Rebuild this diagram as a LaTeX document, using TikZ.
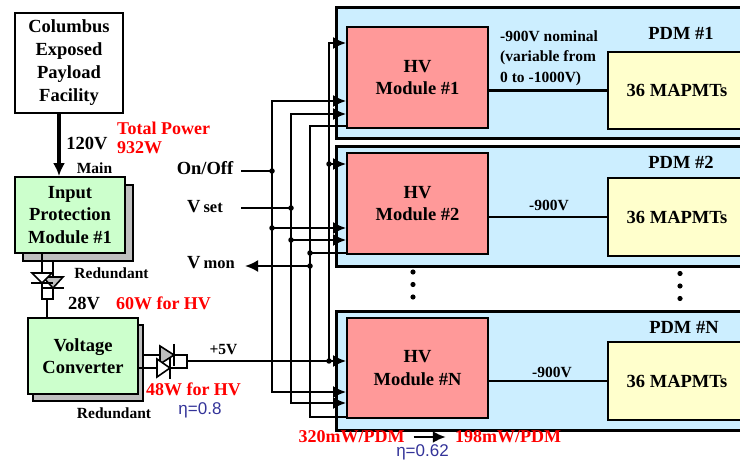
\documentclass[tikz,border=0pt]{standalone}
\usepackage{fontspec}
\setmainfont{Liberation Serif}
\newfontfamily\sansf{Liberation Sans}
\usetikzlibrary{arrows.meta}
\definecolor{pdmblue}{HTML}{CCEEFF}
\definecolor{hvpink}{HTML}{FF9999}
\definecolor{pmtyellow}{HTML}{FFFFCC}
\definecolor{ipgreen}{HTML}{CCFFCC}
\definecolor{shadowgray}{HTML}{BFBFBF}
\definecolor{etablue}{HTML}{333399}
\definecolor{pwrred}{HTML}{FF0000}
\begin{document}
\begin{tikzpicture}[x=1pt,y=-1pt,
  big/.style={font=\fontsize{18.5}{22.5}\selectfont\bfseries, align=center, inner sep=0pt},
  small/.style={font=\fontsize{15.5}{20.5}\selectfont\bfseries, inner sep=0pt},
  pwr/.style={font=\fontsize{18}{20}\selectfont\bfseries, text=pwrred, inner sep=0pt, align=left},
  eff/.style={font=\sansf\fontsize{17}{20}\selectfont, text=etablue, inner sep=0pt},
  box/.style={draw, line width=1.8pt, big},
  shadowbox/.style={draw, line width=1.8pt, fill=shadowgray},
  panel/.style={draw, line width=2.8pt, fill=pdmblue, anchor=north west, minimum width=430pt},
  wire/.style={line width=2.2pt},
  tip/.style={-{Latex[length=13pt,width=12pt]}},
  tips/.style={{Latex[length=13pt,width=12pt]}-{Latex[length=13pt,width=12pt]}},
  jdot/.style={circle, fill=black, inner sep=0pt, minimum size=5.5pt},
  diode/.style={line width=1.6pt},
]
\useasboundingbox (0,0) rectangle (740,465);
\fill[white] (0,0) rectangle (740,465);

% ---------- PDM panels ----------
\node[panel, minimum height=131pt] (pdm1) at (335,6) {};
\node[panel, minimum height=120pt] (pdm2) at (335,145) {};
\node[panel, minimum height=119pt] (pdmN) at (335,310) {};

% ---------- HV modules ----------
\node[box, fill=hvpink, minimum width=141pt, minimum height=101pt] (hv1) at (417.5,77.5) {HV\\Module \#1};
\node[box, fill=hvpink, minimum width=141pt, minimum height=101pt] (hv2) at (417.5,203.5) {HV\\Module \#2};
\node[box, fill=hvpink, minimum width=141pt, minimum height=100pt] (hvN) at (417.5,368) {HV\\Module \#N};

% ---------- MAPMT boxes ----------
\node[box, fill=pmtyellow, minimum width=138pt, minimum height=77pt] (pmt1) at (677,90.5) {36 MAPMTs};
\node[box, fill=pmtyellow, minimum width=138pt, minimum height=78pt] (pmt2) at (677,217) {36 MAPMTs};
\node[box, fill=pmtyellow, minimum width=138pt, minimum height=78pt] (pmtN) at (677,381) {36 MAPMTs};

\draw[wire] (hv1.east |- pmt1.west) -- (pmt1.west);
\draw[wire] (hv2.east |- pmt2.west) -- (pmt2.west);
\draw[wire] (hvN.east |- pmtN.west) -- (pmtN.west);

\node[big] (pdm1lab) at (681,33) {PDM \#1};
\node[big] (pdm2lab) at (681,162) {PDM \#2};
\node[big] (pdmNlab) at (684,327) {PDM \#N};

\node[small, align=left, anchor=north west] (nom) at (500,30.5) {-900V nominal\\(variable from\\0 to -1000V)};
\node[small] (v2) at (549,205) {-900V};
\node[small] (vN) at (552,372) {-900V};

% ellipsis dots
\foreach \yy in {272,284.5,297} \fill (413,\yy) circle (2.6pt);
\foreach \yy in {273.5,286,298.5} \fill (680,\yy) circle (2.6pt);

% ---------- left chain ----------
\node[box, line width=2.2pt, minimum width=108pt, minimum height=100pt, font=\fontsize{18.5}{23}\selectfont\bfseries] (cepf) at (69,63) {Columbus\\Exposed\\Payload\\Facility};
\node[shadowbox, minimum width=110pt, minimum height=76pt] (ipms) at (78,223) {};
\node[box, fill=ipgreen, minimum width=110pt, minimum height=76pt] (ipm) at (70,215) {Input\\Protection\\Module \#1};
\node[shadowbox, minimum width=110pt, minimum height=76pt] (vcs) at (88,363) {};
\node[box, fill=ipgreen, minimum width=110pt, minimum height=76pt] (vc) at (83,356) {Voltage\\Converter};

\draw[line width=3.2pt, -{Latex[length=13pt,width=12pt]}] (cepf.south -| 59,0) -- (ipm.north -| 59,0);

\node[big] (v120) at (87,143) {120V};
\node[pwr, anchor=west] (tp) at (117,128) {Total Power};
\node[pwr, anchor=west] (tpw) at (117,148) {932W};
\node[small] (main) at (94.5,168) {Main};
\node[small] (red1) at (111.5,273) {Redundant};
\node[big] (v28) at (84,303) {28V};
\node[pwr] (w60) at (163.5,303) {60W for HV};
\node[small] (red2) at (114,413) {Redundant};
\node[pwr] (w48) at (193.5,389) {48W for HV};
\node[eff] (eta1) at (200,410) {η=0.8};
\node[small] (p5) at (223.5,350) {+5V};

% input protection diodes
\draw[wire] (ipm.south -| 42,0) -- (42,273);
\draw[wire] (ipms.south -| 53,0) -- (53,277);
\filldraw[diode, fill=shadowgray] (43,277) -- (63,277) -- (53,288) -- cycle;
\draw[line width=2pt] (42,288) -- (64,288);
\filldraw[diode, fill=white] (32,273) -- (52,273) -- (42,283) -- cycle;
\draw[line width=2pt] (31,283) -- (53,283);
\draw[wire] (42,283) -- (42,299) -- (53,299) -- (53,288);
\draw[wire] (47,299) -- (vc.north -| 47,0);

% converter diodes
\draw[wire] (vcs.east |- 0,355) -- (160,355);
\filldraw[diode, fill=shadowgray] (160,346) -- (160,364) -- (174,355) -- cycle;
\draw[line width=2pt] (174,344) -- (174,366);
\draw[wire] (vc.east |- 0,368) -- (157,368);
\filldraw[diode, fill=white] (157,359) -- (157,377) -- (170,368) -- cycle;
\draw[line width=2pt] (170,357) -- (170,379);
\draw[wire] (174,355) -- (187,355) -- (187,368) -- (170,368);
\coordinate (p5out) at (187,361);

% ---------- control labels ----------
\node[big, anchor=east] (onoff) at (233.5,168) {On/Off};
\node[big, anchor=east] (vset) at (223,207) {V\,{\fontsize{16.5}{16}\selectfont set}};
\node[big, anchor=east] (vmon) at (235,263) {V\,{\fontsize{16.5}{16}\selectfont mon}};
\coordinate (onoffIn) at (241,171);
\coordinate (vsetIn) at (241,208);
\coordinate (vmonOut) at (245,266);

% ---------- buses ----------
% On/Off x=272
\draw[wire, tips] (hv1.west |- 0,101) -- (272,101) -- (272,392) -- (hvN.west |- 0,392);
\draw[wire, tip] (272,228) -- (hv2.west |- 0,228);
\draw[wire] (onoffIn) -- (272,171);
% Vset x=291
\draw[wire, tips] (hv1.west |- 0,114) -- (291,114) -- (291,403) -- (hvN.west |- 0,403);
\draw[wire, tip] (291,240) -- (hv2.west |- 0,240);
\draw[wire] (vsetIn) -- (291,208);
% Vmon x=310
\draw[wire] (hv1.west |- 0,126) -- (310,126) -- (310,417) -- (hvN.west |- 0,417);
\draw[wire] (310,253) -- (hv2.west |- 0,253);
\draw[wire, tip] (310,266) -- (vmonOut);
% +5V x=329
\draw[wire, tip] (329,361) -- (329,43) -- (hv1.west |- 0,43);
\draw[wire, tip] (329,164) -- (hv2.west |- 0,164);
\draw[wire, tip] (p5out) -- (hvN.west |- 0,361);

\foreach \p in {(272,171),(272,228),(291,208),(291,240),(310,253),(310,266),(329,164),(329,361)}
  \node[jdot] at \p {};

% ---------- bottom ----------
\node[pwr] (p320) at (351.5,437) {320mW/PDM};
\node[pwr] (p198) at (508,437) {198mW/PDM};
\draw[line width=2.5pt, tip, shorten <=9pt, shorten >=9pt] (p320.east) -- (p198.west);
\node[eff] (eta2) at (422.5,452) {η=0.62};
\end{tikzpicture}
\end{document}
